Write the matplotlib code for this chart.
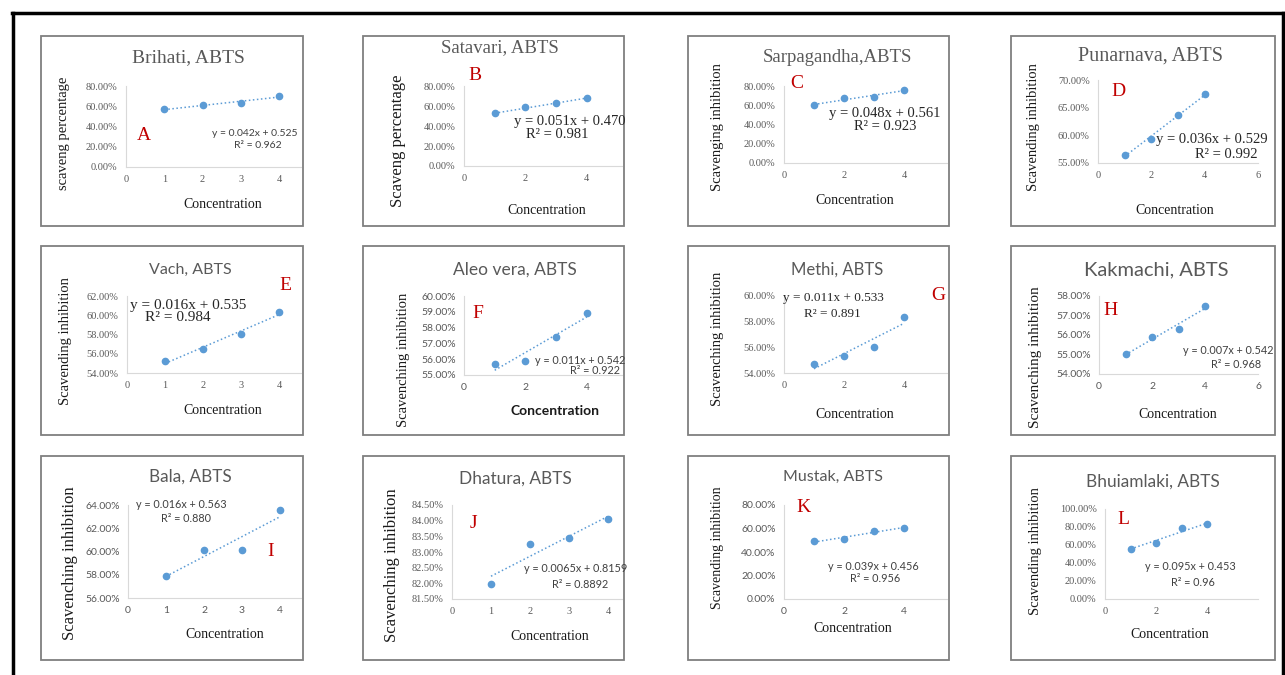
import numpy as np
import matplotlib.pyplot as plt
from matplotlib import patches
from matplotlib.lines import Line2D

W, H = 1285, 675

conc = [1, 2, 3, 4]

titles = ["Brihati, ABTS", "Satavari, ABTS", "Sarpagandha,ABTS", "Punarnava, ABTS",
          "Vach, ABTS", "Aleo vera, ABTS", "Methi, ABTS", "Kakmachi, ABTS",
          "Bala, ABTS", "Dhatura, ABTS", "Mustak, ABTS", "Bhuiamlaki, ABTS"]
ylabels = ["scaveng percentage", "Scaveng percentage", "Scavenging inhibition",
           "Scavending inhibition", "Scavending inhibition", "Scavenching inhibition",
           "Scavenching inhibition", "Scavenching inhibition", "Scavenching inhibition",
           "Scavenching inhibition", "Scavending inhibition", "Scavending inhibition"]
letters = list("ABCDEFGHIJKL")

brihati = [0.570, 0.610, 0.635, 0.700]
satavari = [0.525, 0.585, 0.625, 0.680]
sarpagandha = [0.600, 0.675, 0.690, 0.755]
punarnava = [0.565, 0.594, 0.636, 0.674]
vach = [0.552, 0.565, 0.581, 0.603]
aleo_vera = [0.557, 0.559, 0.574, 0.5895]
methi = [0.547, 0.553, 0.560, 0.584]
kakmachi = [0.550, 0.559, 0.563, 0.575]
bala = [0.579, 0.601, 0.601, 0.636]
dhatura = [0.8198, 0.8326, 0.8345, 0.8404]
mustak = [0.491, 0.509, 0.580, 0.606]
bhuiamlaki = [0.560, 0.627, 0.784, 0.828]
series = [brihati, satavari, sarpagandha, punarnava, vach, aleo_vera,
          methi, kakmachi, bala, dhatura, mustak, bhuiamlaki]

equations = ["y = 0.042x + 0.525", "y = 0.051x + 0.470", "y = 0.048x + 0.561",
             "y = 0.036x + 0.529", "y = 0.016x + 0.535", "y = 0.011x + 0.542",
             "y = 0.011x + 0.533", "y = 0.007x + 0.542", "y = 0.016x + 0.563",
             "y = 0.0065x + 0.8159", "y = 0.039x + 0.456", "y = 0.095x + 0.453"]
r_squared = ["R² = 0.962", "R² = 0.981", "R² = 0.923", "R² = 0.992", "R² = 0.984",
             "R² = 0.922", "R² = 0.891", "R² = 0.968", "R² = 0.880", "R² = 0.8892",
             "R² = 0.956", "R² = 0.96"]

y_ranges = [(0, 0.8, 0.2), (0, 0.8, 0.2), (0, 0.8, 0.2), (0.55, 0.70, 0.05),
            (0.54, 0.62, 0.02), (0.55, 0.60, 0.01), (0.54, 0.60, 0.02), (0.54, 0.58, 0.01),
            (0.56, 0.64, 0.02), (0.815, 0.845, 0.005), (0, 0.8, 0.2), (0, 1.0, 0.2)]
x_steps = [1, 2, 2, 2, 1, 2, 2, 2, 1, 1, 2, 2]

# layout in pixels: plot area (left, x-axis y, top y, px per unit, right),
# centres of title, xlabel, ylabel, letter, equation, r2; font sizes
rows = [(36, 226), (246, 435), (456, 660)]
cols = [(41, 303), (363, 624), (688, 949), (1011, 1275)]
layout = [
    dict(plot=(126, 167, 86, 38.3, 301), title=(188, 58), xl=(223, 205), yl=(63, 133),
         let=(144, 136), eq=(255, 133), r2=(258, 146), big=False, ts=14, ys=10.5, es=7.5),
    dict(plot=(464, 166, 86, 30.7, 622), title=(500, 48), xl=(547, 210), yl=(398, 141),
         let=(475, 76), eq=(570, 121), r2=(557, 134), big=True, ts=13.5, ys=12, es=10.5),
    dict(plot=(784, 163, 86, 30.0, 947), title=(837, 58), xl=(855, 201), yl=(718, 127),
         let=(797, 83), eq=(885, 113), r2=(885, 126), big=True, ts=13.5, ys=10.5, es=10.5),
    dict(plot=(1098, 163, 80, 26.7, 1258), title=(1151, 56), xl=(1175, 210), yl=(1033, 127),
         let=(1118, 91), eq=(1212, 139), r2=(1226, 155), big=True, ts=14.5, ys=10.5, es=10.5),
    dict(plot=(127, 373, 296, 38.0, 301), title=(190, 270), xl=(223, 411), yl=(66, 341),
         let=(285, 285), eq=(188, 305), r2=(178, 318), big=True, ts=11.5, ys=10.5, es=11),
    dict(plot=(464, 375, 296, 30.7, 622), title=(515, 270), xl=(555, 411), yl=(403, 360),
         let=(478, 313), eq=(580, 360), r2=(595, 370), big=False, ts=12.5, ys=10.5, es=7.8),
    dict(plot=(784, 373, 296, 30.0, 947), title=(837, 270), xl=(855, 415), yl=(718, 339),
         let=(938, 295), eq=(833, 298), r2=(832, 314), big=True, ts=12, ys=10.5, es=9.5),
    dict(plot=(1099, 374, 296, 26.5, 1258), title=(1156, 270), xl=(1178, 415), yl=(1036, 357),
         let=(1111, 311), eq=(1228, 351), r2=(1236, 365), big=False, ts=14.5, ys=11, es=7.8),
    dict(plot=(128, 598, 505, 38.0, 301), title=(190, 477), xl=(225, 635), yl=(70, 563),
         let=(271, 552), eq=(181, 505), r2=(186, 518), big=False, ts=12.3, ys=12, es=7.8),
    dict(plot=(452, 599, 505, 39.0, 622), title=(515, 479), xl=(550, 637), yl=(392, 565),
         let=(473, 524), eq=(576, 569), r2=(580, 584), big=False, ts=12.4, ys=12, es=7.8),
    dict(plot=(784, 599, 505, 30.0, 947), title=(833, 477), xl=(853, 629), yl=(718, 548),
         let=(803, 507), eq=(873, 566), r2=(875, 579), big=False, ts=11.5, ys=10, es=7.8),
    dict(plot=(1105, 599, 509, 25.6, 1258), title=(1153, 482), xl=(1170, 635), yl=(1036, 551),
         let=(1123, 519), eq=(1190, 567), r2=(1193, 582), big=False, ts=12.4, ys=10.5, es=7.8),
]
serif_titles = [True, True, True, True, False, False, False, False, False, False, False, False]
sans_ticks = [False, False, False, False, False, True, False, True, True, False, True, False]

SERIF = "Liberation Serif"
SANS = "Lato"
BLUE = "#5B9BD5"
GRAY = "#595959"
RED = "#C00000"


def fx(x):
    return x / W


def fy(y):
    return 1 - y / H


fig = plt.figure(figsize=(W / 100, H / 100), dpi=100)

# outer frame
for xs, ys in [((12, 1284), (13, 13)), ((13, 13), (13, 675)), ((1283, 1283), (13, 675))]:
    fig.add_artist(Line2D([fx(v) for v in xs], [fy(v) for v in ys], color="black", lw=2.5))

for i, vals in enumerate(series):
    lay = layout[i]
    bx0, bx1 = cols[i % 4]
    by0, by1 = rows[i // 4]
    fig.add_artist(patches.Rectangle((fx(bx0), fy(by1)), (bx1 - bx0) / W, (by1 - by0) / H,
                                     fill=False, edgecolor="#7f7f7f", lw=1.3))

    left, bottom, top, unit, right = lay["plot"]
    ax = fig.add_axes([fx(left), fy(bottom), (right - left) / W, (bottom - top) / H])
    ymin, ymax, ystep = y_ranges[i]
    ax.set_ylim(ymin, ymax)
    ax.set_xlim(0, (right - left) / unit)
    ax.set_yticks(np.arange(ymin, ymax + ystep / 2, ystep))
    ax.set_xticks(np.arange(0, (right - left) / unit + 0.01, x_steps[i]))
    ax.yaxis.set_major_formatter(lambda v, p: f"{v * 100:.2f}%")
    ax.xaxis.set_major_formatter(lambda v, p: f"{v:.0f}")
    tick_font = SANS if sans_ticks[i] else SERIF
    ax.tick_params(length=0, labelsize=7.5, labelcolor=GRAY, pad=6)
    for lab in ax.get_xticklabels() + ax.get_yticklabels():
        lab.set_fontfamily(tick_font)
    for s in ["top", "right"]:
        ax.spines[s].set_visible(False)
    for s in ["left", "bottom"]:
        ax.spines[s].set_color("#d9d9d9")
        ax.spines[s].set_linewidth(0.8)
    ax.patch.set_alpha(0)

    slope, icpt = np.polyfit(conc, vals, 1)
    xs = np.array([conc[0], conc[-1]])
    ax.plot(xs, slope * xs + icpt, ":", color=BLUE, lw=1.1)
    ax.plot(conc, vals, "o", color=BLUE, ms=4.5, clip_on=False)

    fig.text(fx(lay["title"][0]), fy(lay["title"][1]), titles[i], ha="center", va="center",
             fontsize=lay["ts"], color="#595959",
             family=SERIF if serif_titles[i] else SANS)
    fig.text(fx(lay["xl"][0]), fy(lay["xl"][1]), "Concentration", ha="center", va="center",
             fontsize=10, family=SANS if i == 5 else SERIF,
             weight="bold" if i == 5 else "normal", color="#1a1a1a")
    fig.text(fx(lay["yl"][0]), fy(lay["yl"][1]), ylabels[i], ha="center", va="center",
             rotation=90, fontsize=lay["ys"], family=SERIF, color="#1a1a1a")
    fig.text(fx(lay["let"][0]), fy(lay["let"][1]), letters[i], ha="center", va="center",
             fontsize=14, family=SERIF, color=RED)
    if lay["big"]:
        efont, ecol = SERIF, "#262626"
    else:
        efont, ecol = SANS, "#404040"
    fig.text(fx(lay["eq"][0]), fy(lay["eq"][1]), equations[i], ha="center", va="center",
             fontsize=lay["es"], family=efont, color=ecol)
    fig.text(fx(lay["r2"][0]), fy(lay["r2"][1]), r_squared[i], ha="center", va="center",
             fontsize=lay["es"], family=efont, color=ecol)

fig.savefig("out.png", dpi=100)
